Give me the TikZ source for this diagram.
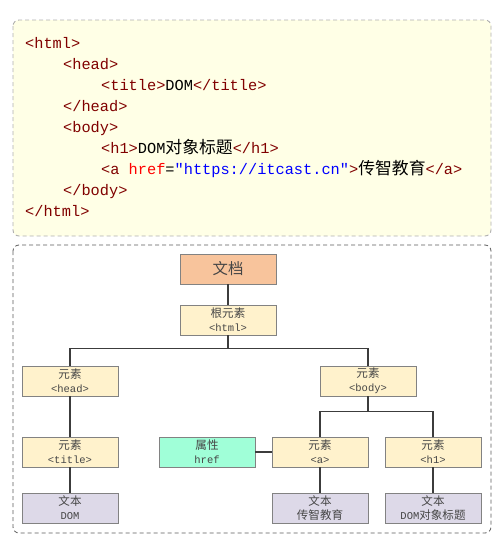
\documentclass[tikz,border=0pt]{standalone}
\usepackage{fontspec}
\setmonofont{Liberation Mono}
\newfontfamily\cjk{Noto Sans CJK SC}[Scale=1.1]
\usetikzlibrary{positioning}
\definecolor{tagred}{RGB}{128,0,0}
\definecolor{attrred}{RGB}{255,0,0}
\definecolor{strblue}{RGB}{0,0,255}
\definecolor{codebg}{RGB}{255,255,230}
\definecolor{codeframe}{RGB}{175,175,175}
\definecolor{treeframe}{RGB}{90,90,90}
\definecolor{docfill}{RGB}{248,196,156}
\definecolor{elemfill}{RGB}{255,242,204}
\definecolor{attrfill}{RGB}{160,255,216}
\definecolor{textfill}{RGB}{221,217,232}
\definecolor{boxline}{RGB}{130,130,130}
\definecolor{nodetext}{RGB}{70,70,70}
\definecolor{linkgray}{RGB}{60,60,60}
\newcommand{\tg}[1]{\textcolor{tagred}{#1}}

\begin{document}
\begin{tikzpicture}[x=1pt, y=-1pt,
    box/.style={draw=boxline, line width=0.8pt, minimum width=96pt, minimum height=30pt,
        inner sep=0pt, align=center, text=nodetext, font=\fontsize{10.5}{14}\selectfont},
    docbox/.style={box, fill=docfill, font=\fontsize{14}{14}\selectfont},
    elembox/.style={box, fill=elemfill},
    attrbox/.style={box, fill=attrfill},
    textbox/.style={box, fill=textfill},
    link/.style={draw=linkgray, line width=1.1pt},
    code/.style={anchor=base west, inner sep=0pt, font=\ttfamily\fontsize{15.3}{15.3}\selectfont}]
\useasboundingbox (0,0) rectangle (503,538);

% Cadre du code
\draw[codeframe, line width=0.9pt, fill=codebg, dash pattern=on 4pt off 3pt, rounded corners=6pt] (13,20) rectangle (491,236);

% Lignes du code
\node[code] (l1) at (25,48) {\tg{<html>}};
\node[code] (l2) at (63,69) {\tg{<head>}};
\node[code] (l3) at (101,90) {\tg{<title>}DOM\tg{</title>}};
\node[code] (l4) at (63,111) {\tg{</head>}};
\node[code] (l5) at (63,132) {\tg{<body>}};
\node[code] (l6) at (101,153) {\tg{<h1>}DOM{\cjk 对象标题}\tg{</h1>}};
\node[code] (l7) at (101,174) {\tg{<a }\textcolor{attrred}{href}=\textcolor{strblue}{"https://itcast.cn"}\tg{>}{\cjk 传智教育}\tg{</a>}};
\node[code] (l8) at (63,195) {\tg{</body>}};
\node[code] (l9) at (25,216) {\tg{</html>}};

% Cadre de l'arbre
\draw[treeframe, line width=0.8pt, dash pattern=on 4pt off 3pt, rounded corners=6pt] (13,245) rectangle (491,533);

% Noeuds
\node[docbox] (doc) at (228,269) {\cjk 文档};
\node[elembox] (html) at (228,320) {{\cjk 根元素}\\\ttfamily <html>};
\node[elembox] (head) at (70,381) {{\cjk 元素}\\\ttfamily <head>};
\node[elembox] (body) at (368,381) {{\cjk 元素}\\\ttfamily <body>};
\node[elembox] (title) at (70,452) {{\cjk 元素}\\\ttfamily <title>};
\node[attrbox] (href) at (207,452) {{\cjk 属性}\\\ttfamily href};
\node[elembox] (a) at (320,452) {{\cjk 元素}\\\ttfamily <a>};
\node[elembox] (h1) at (433,452) {{\cjk 元素}\\\ttfamily <h1>};
\node[textbox] (tdom) at (70,508) {{\cjk 文本}\\\ttfamily DOM};
\node[textbox] (ta) at (320,508) {{\cjk 文本}\\{\cjk 传智教育}};
\node[textbox] (th1) at (433,508) {{\cjk 文本}\\{\ttfamily DOM}{\cjk 对象标题}};

% Liens
\draw[link] (doc) -- (html);
\draw[link] (html.south) -- ++(0,13) -| (head.north);
\draw[link] (html.south) -- ++(0,13) -| (body.north);
\draw[link] (body.south) -- ++(0,15) -| (a.north);
\draw[link] (body.south) -- ++(0,15) -| (h1.north);
\draw[link] (head) -- (title);
\draw[link] (title) -- (tdom);
\draw[link] (href) -- (a);
\draw[link] (a) -- (ta);
\draw[link] (h1) -- (th1);

\end{tikzpicture}
\end{document}
